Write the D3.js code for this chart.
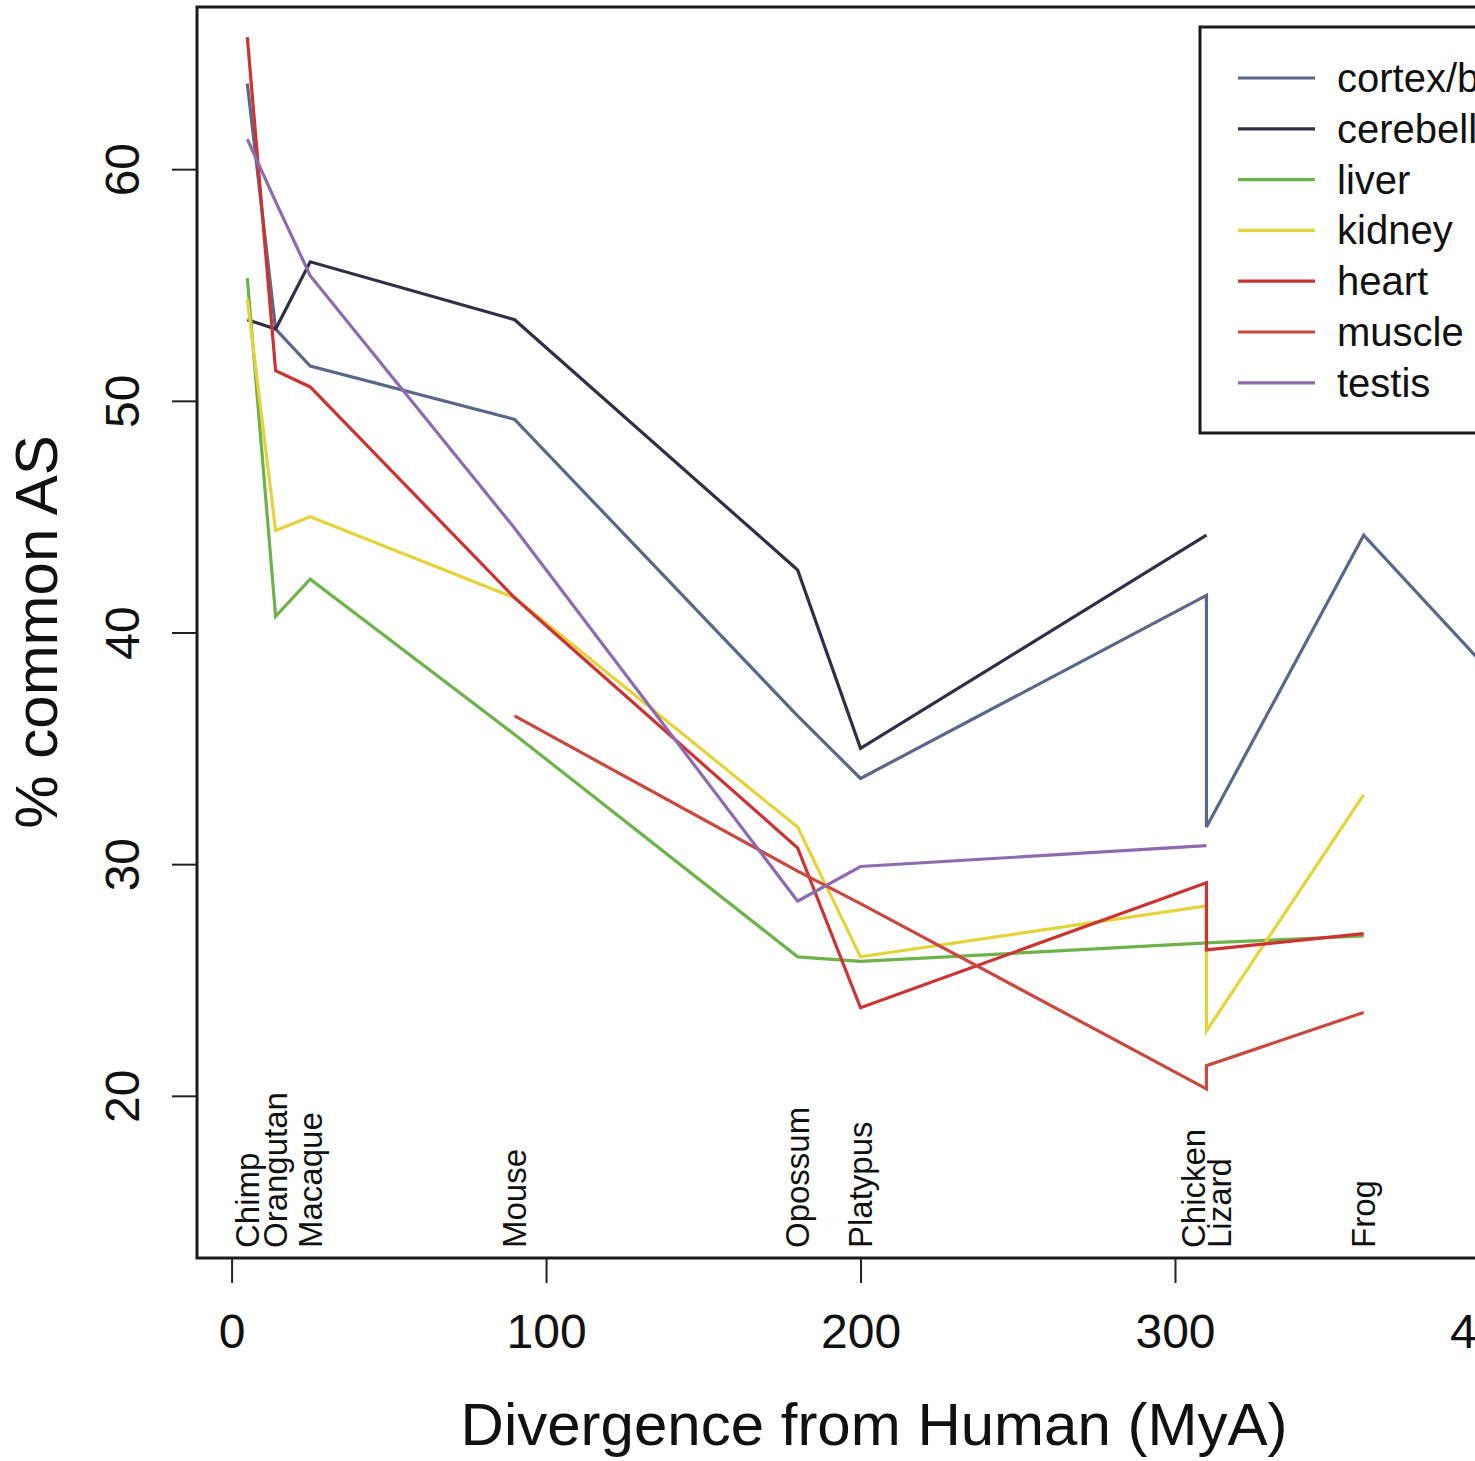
<!DOCTYPE html>
<html>
<head>
<meta charset="utf-8">
<script src="https://cdn.jsdelivr.net/npm/d3@7"></script>
<style>
  html, body { margin: 0; padding: 0; background: #fff; overflow: hidden; }
  svg { display: block; font-family: "Liberation Sans", Arial, Helvetica, sans-serif; }
</style>
</head>
<body>
<svg id="chart" width="1475" height="1461"></svg>
<script>
// ---- data ----
const species = ["Chimp", "Orangutan", "Macaque", "Mouse", "Opossum", "Platypus", "Chicken", "Lizard", "Frog", ""];
const divergence = [5, 14, 25, 90, 180, 200, 310, 310, 360, 435];

const tissues = ["cortex/brain", "cerebellum", "liver", "kidney", "heart", "muscle", "testis"];
const tissueColors = ["#5b6787", "#2f3046", "#6db24a", "#e5d33a", "#cc3333", "#c9483f", "#8d6bb0"];

const cortex     = [63.7, 53.1, 51.5, 49.2, 36.4, 33.7, 41.6, 31.6, 44.2, 33.2];
const cerebellum = [53.5, 53.1, 56.0, 53.5, 42.7, 35.0, 44.2, null, null, null];
const liver      = [55.3, 40.7, 42.3, 35.6, 26.0, 25.8, 26.6, 26.6, 26.9, null];
const kidney     = [54.4, 44.4, 45.0, 41.5, 31.6, 26.0, 28.2, 22.8, 33.0, null];
const heart      = [65.7, 51.3, 50.6, 41.5, 30.7, 23.8, 29.2, 26.3, 27.0, null];
const muscle     = [null, null, null, 36.4, 29.7, 28.3, 20.3, 21.3, 23.6, null];
const testis     = [61.3, 58.6, 55.4, 44.5, 28.4, 29.9, 30.8, null, null, null];
const seriesValues = [cortex, cerebellum, liver, kidney, heart, muscle, testis];

const xTicks = [0, 100, 200, 300, 400];
const yTicks = [20, 30, 40, 50, 60];
const xTitle = "Divergence from Human (MyA)";
const yTitle = "% common AS";

// ---- layout ----
const svg = d3.select("#chart");
const M = { left: 197, top: 7, bottom: 1258, right: 1653 };
const x = d3.scaleLinear().domain([-11, 452]).range([M.left, M.right]);
const y = d3.scaleLinear().domain([13, 67]).range([M.bottom, M.top]);

// axes
const xAxis = d3.axisBottom(x).tickValues(xTicks).tickSize(25).tickPadding(19).tickFormat(d3.format("d"));
const gx = svg.append("g").attr("transform", `translate(0,${M.bottom})`).call(xAxis);
gx.select(".domain").attr("d", `M${x(0)},0H${x(400)}`).attr("stroke", "#222").attr("stroke-width", 2);
gx.selectAll(".tick line").attr("stroke", "#222").attr("stroke-width", 2);
gx.selectAll(".tick text").attr("font-size", 48).attr("fill", "#111")
  .attr("font-family", "'Liberation Sans', Arial, sans-serif").attr("dy", "0.95em");

const yAxis = d3.axisLeft(y).tickValues(yTicks).tickSize(25).tickFormat(d3.format("d"));
const gy = svg.append("g").attr("transform", `translate(${M.left},0)`).call(yAxis);
gy.select(".domain").remove();
gy.selectAll(".tick line").attr("stroke", "#222").attr("stroke-width", 2);
gy.selectAll(".tick text").remove();
gy.selectAll(".tick").append("text")
  .attr("transform", "translate(-75,0) rotate(-90)")
  .attr("text-anchor", "middle").attr("dy", "0.35em")
  .attr("font-size", 48).attr("fill", "#111")
  .attr("font-family", "'Liberation Sans', Arial, sans-serif")
  .text(d => d);

// plot box
svg.append("rect").attr("x", M.left).attr("y", M.top).attr("width", M.right - M.left).attr("height", M.bottom - M.top)
  .attr("fill", "none").attr("stroke", "#1a1a1a").attr("stroke-width", 3);

// species labels
const labelOffsets = species.map((s, i) => {
  const dup = divergence.filter(v => v === divergence[i]).length > 1;
  if (!dup) return 0;
  const first = divergence.indexOf(divergence[i]) === i;
  return first ? -13 : 13;
});
svg.append("g").selectAll("text").data(species.map((s, i) => ({ s, i })).filter(d => d.s !== ""))
  .join("text")
  .attr("transform", d => `translate(${x(divergence[d.i]) + labelOffsets[d.i]},1248) rotate(-90)`)
  .attr("dy", "0.35em").attr("text-anchor", "start")
  .attr("font-size", 33).attr("fill", "#111")
  .text(d => d.s);

// lines
const line = d3.line()
  .defined(d => d.v != null)
  .x(d => x(d.x)).y(d => y(d.v));

const plot = svg.append("g");
tissues.forEach((t, k) => {
  const pts = seriesValues[k].map((v, i) => ({ x: divergence[i], v }));
  plot.append("path").datum(pts)
    .attr("d", line)
    .attr("fill", "none")
    .attr("stroke", tissueColors[k])
    .attr("stroke-width", 3.2)
    .attr("stroke-linejoin", "miter");
});

// legend
const lg = svg.append("g");
lg.append("rect").attr("x", 1200).attr("y", 27).attr("width", 500).attr("height", 406)
  .attr("fill", "#fff").attr("stroke", "#1a1a1a").attr("stroke-width", 3);
tissues.forEach((t, k) => {
  const ly = 78 + k * 50.8;
  lg.append("line").attr("x1", 1238).attr("x2", 1315).attr("y1", ly).attr("y2", ly)
    .attr("stroke", tissueColors[k]).attr("stroke-width", 3.2);
  lg.append("text").attr("x", 1337).attr("y", ly).attr("dy", "0.35em")
    .attr("font-size", 40).attr("fill", "#111").text(t);
});

// axis titles
svg.append("text").attr("x", 874).attr("y", 1445).attr("text-anchor", "middle")
  .attr("font-size", 60).attr("fill", "#111").text(xTitle);
svg.append("text").attr("transform", "translate(36,632) rotate(-90)")
  .attr("text-anchor", "middle").attr("dy", "0.35em")
  .attr("font-size", 60).attr("fill", "#111").text(yTitle);
</script>
</body>
</html>
